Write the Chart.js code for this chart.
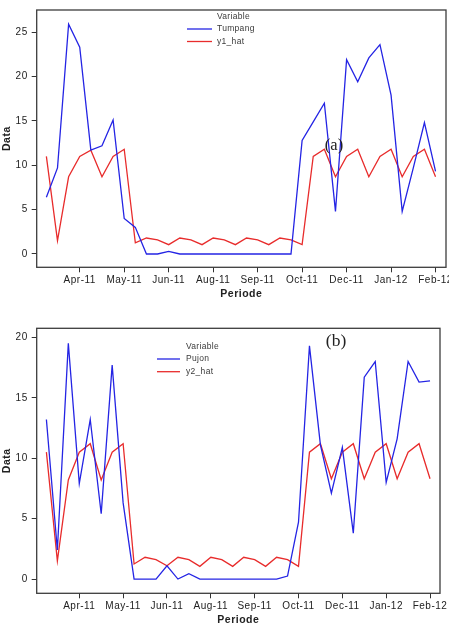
<!DOCTYPE html>
<html><head><meta charset="utf-8">
<script src="https://cdn.jsdelivr.net/npm/chart.js@4"></script>
<style>
html,body{margin:0;padding:0;background:#fff;overflow:hidden;}
body{width:449px;height:633px;position:relative;overflow:hidden;}
.w{position:absolute;left:0;width:470px;}
#wa{top:0;height:300px;}
#wb{top:300px;height:333px;}
</style></head><body>
<div class="w" id="wa"><canvas id="ca"></canvas></div>
<div class="w" id="wb"><canvas id="cb"></canvas></div>
<script>
// ---- data ----
const periodIndex = [0,1,2,3,4,5,6,7,8,9,10,11,12,13,14,15,16,17,18,19,20,21,22,23,24,25,26,27,28,29,30,31,32,33,34,35];
const tickPositions = [3,7,11,15,19,23,27,31,35];
const tickLabels = ['Apr-11','May-11','Jun-11','Aug-11','Sep-11','Oct-11','Dec-11','Jan-12','Feb-12'];
const yTicksA = [0,5,10,15,20,25];
const yTicksB = [0,5,10,15,20];

const tumpang = [6.4,9.7,25.9,23.3,11.7,12.2,15.1,4.0,3.0,0,0,0.3,0,0,0,0,0,0,0,0,0,0,0,12.8,14.9,17.0,4.8,21.9,19.4,22.1,23.6,17.9,4.8,9.7,14.8,9.3];
const y1hat   = [11.0,1.5,8.7,11.0,11.7,8.7,11.0,11.8,1.25,1.8,1.6,1.05,1.8,1.6,1.05,1.8,1.6,1.05,1.8,1.6,1.05,1.8,1.6,1.05,11.0,11.8,8.7,11.0,11.8,8.7,11.0,11.8,8.7,11.0,11.8,8.7];
const pujon   = [13.2,2.4,19.5,7.9,13.2,5.4,17.7,6.3,0,0,0,1.1,0,0.45,0,0,0,0,0,0,0,0,0.25,4.7,19.3,11.1,7.1,10.9,3.8,16.7,18.0,8.0,11.6,18.0,16.3,16.4];
const y2hat   = [10.5,1.5,8.2,10.5,11.2,8.2,10.5,11.2,1.25,1.8,1.6,1.1,1.8,1.6,1.05,1.8,1.6,1.05,1.8,1.6,1.05,1.8,1.6,1.05,10.5,11.2,8.3,10.5,11.2,8.3,10.5,11.2,8.3,10.5,11.2,8.3];

const FAM = '"Liberation Sans", Arial, Helvetica, sans-serif';
const BLUE = '#2424e4';
const RED = '#e82c2c';

const spacingPlugin = {
  id:'spacing',
  beforeLayout(chart){ chart.ctx.letterSpacing = '0.5px'; },
  beforeDraw(chart){ chart.ctx.letterSpacing = '0.5px'; }
};

const framePlugin = {
  id:'frame',
  afterDraw(chart, args, o){
    const {ctx, chartArea:a} = chart;
    ctx.save();
    ctx.strokeStyle = '#3c3c3c'; ctx.lineWidth = 1.3;
    ctx.strokeRect(a.left, a.top, a.right - a.left, a.bottom - a.top);
    ctx.letterSpacing = '0.3px';
    ctx.font = '8.5px ' + FAM;
    ctx.fillStyle = '#3a3a3a';
    ctx.textBaseline = 'middle'; ctx.textAlign = 'left';
    ctx.fillText('Variable', o.textX, o.titleY);
    chart.data.datasets.forEach((ds, k) => {
      const y = o.firstY + k * o.step;
      ctx.strokeStyle = ds.borderColor; ctx.lineWidth = 1.3;
      ctx.beginPath(); ctx.moveTo(o.lineX0, y); ctx.lineTo(o.lineX1, y); ctx.stroke();
      ctx.fillText(ds.label, o.textX, y);
    });
    ctx.letterSpacing = '0px';
    ctx.font = o.tagFont;
    ctx.textAlign = 'center';
    ctx.fillStyle = '#222';
    ctx.fillText(o.tag, o.tagX, o.tagY);
    ctx.restore();
  }
};

function makeChart(id, s1, s2, l1, l2, yTicks, yMin, yMax, xMin, xMax, pad, xHeight, xTitlePadBottom, frameOpts){
  const pts = arr => arr.map((v, i) => ({x: periodIndex[i], y: v}));
  return new Chart(document.getElementById(id), {
    type:'line',
    data:{ datasets:[
      {label:l1, data:pts(s1), borderColor:BLUE, borderWidth:1.3, pointRadius:0, tension:0, fill:false},
      {label:l2, data:pts(s2), borderColor:RED, borderWidth:1.3, pointRadius:0, tension:0, fill:false}
    ]},
    options:{
      responsive:true, maintainAspectRatio:false, animation:false, devicePixelRatio:1,
      layout:{padding:pad},
      plugins:{legend:{display:false}, tooltip:{enabled:false}, frame:frameOpts},
      scales:{
        x:{
          type:'linear', min:xMin, max:xMax,
          afterBuildTicks: s => { s.ticks = tickPositions.map(v => ({value:v})); },
          afterFit: s => { s.height = xHeight; },
          grid:{display:true, drawOnChartArea:false, drawTicks:true, tickLength:5, color:'#333', lineWidth:1},
          border:{display:false},
          ticks:{autoSkip:false, maxRotation:0, minRotation:0, padding:2, color:'#222', font:{family:FAM, size:10},
            callback: v => { const k = tickPositions.indexOf(v); return k >= 0 ? tickLabels[k] : ''; }},
          title:{display:true, text:'Periode', color:'#222', font:{family:FAM, size:10.5, weight:'bold'}, padding:{top:0, bottom:xTitlePadBottom}}
        },
        y:{
          min:yMin, max:yMax,
          afterBuildTicks: s => { s.ticks = yTicks.map(v => ({value:v})); },
          afterFit: s => { s.width = 36.7; },
          grid:{display:true, drawOnChartArea:false, drawTicks:true, tickLength:5, color:'#333', lineWidth:1},
          border:{display:false},
          ticks:{padding:4, color:'#222', font:{family:FAM, size:10}},
          title:{display:true, text:'Data', color:'#222', font:{family:FAM, size:10.5, weight:'bold'}, padding:{top:1, bottom:0}}
        }
      }
    },
    plugins:[spacingPlugin, framePlugin]
  });
}

makeChart('ca', tumpang, y1hat, 'Tumpang', 'y1_hat', yTicksA, -1.5, 27.5, -0.87, 35.94,
  {top:4, right:24, bottom:0, left:0}, 32.7, 0,
  {textX:217, titleY:17, firstY:29, step:12.5, lineX0:187, lineX1:212,
   tag:'(a)', tagX:334, tagY:146, tagFont:'16.5px "Liberation Serif", "Times New Roman", serif'});

makeChart('cb', pujon, y2hat, 'Pujon', 'y2_hat', yTicksB, -1.18, 20.75, -0.885, 35.91,
  {top:28.3, right:30, bottom:0, left:0}, 39.7, 6.7,
  {textX:186, titleY:46.7, firstY:59, step:12.7, lineX0:157, lineX1:180,
   tag:'(b)', tagX:336, tagY:41.7, tagFont:'17.5px "Liberation Serif", "Times New Roman", serif'});
</script>
</body></html>
